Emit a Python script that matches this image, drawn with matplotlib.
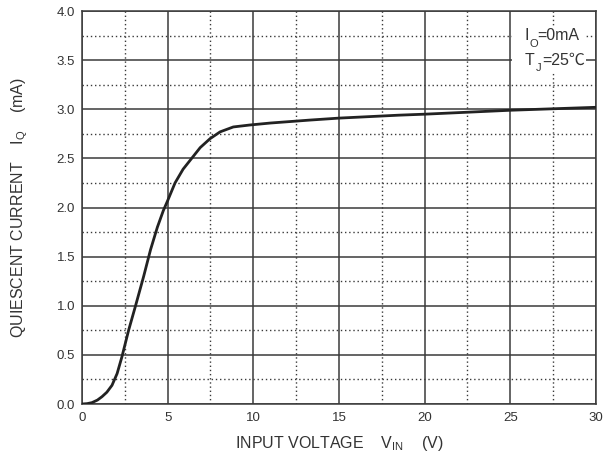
import matplotlib
matplotlib.use("Agg")
import matplotlib.pyplot as plt
from matplotlib.patches import Rectangle
from matplotlib.ticker import MultipleLocator

plt.rcParams["font.family"] = ["Liberation Sans", "DejaVu Sans"]
plt.rcParams["mathtext.fontset"] = "custom"
plt.rcParams["mathtext.rm"] = "Liberation Sans"

# input voltage (V) and quiescent current (mA)
vin = [0, 0.3, 0.58, 0.9, 1.17, 1.45, 1.75, 2.05, 2.33, 2.72, 3.11, 3.6,
       4.0, 4.4, 4.75, 5.0, 5.43, 5.9, 6.4, 6.9, 7.47, 8.06, 8.83, 9.8,
       11.0, 13.3, 15.0, 18.5, 20.0, 25.0, 30.0]
iq = [0, 0.004, 0.014, 0.04, 0.075, 0.12, 0.19, 0.31, 0.48, 0.75, 0.99,
      1.30, 1.57, 1.80, 1.97, 2.07, 2.25, 2.39, 2.50, 2.61, 2.70, 2.77,
      2.82, 2.84, 2.86, 2.89, 2.91, 2.94, 2.95, 2.99, 3.02]

x_ticks = [0, 5, 10, 15, 20, 25, 30]
y_ticks = [0.0, 0.5, 1.0, 1.5, 2.0, 2.5, 3.0, 3.5, 4.0]

# test conditions: (main letter, subscript, rest)
conditions = [("I", "O", "=0mA"), ("T", "J", "=25℃")]

fig = plt.figure(figsize=(6.06, 4.61), dpi=100)
ax = fig.add_axes([0.1353, 0.1236, 0.8482, 0.8525])

ax.plot(vin, iq, color="#222222", lw=2.0, solid_capstyle="round",
        solid_joinstyle="round", zorder=3)

ax.set_xlim(0, 30)
ax.set_ylim(0, 4.0)
ax.set_xticks(x_ticks)
ax.set_yticks(y_ticks)
ax.set_yticklabels(["%.1f" % v for v in y_ticks])
ax.xaxis.set_minor_locator(MultipleLocator(2.5))
ax.yaxis.set_minor_locator(MultipleLocator(0.25))
ax.grid(which="major", color="#3a3a3a", lw=1.1, ls="-")
ax.grid(which="minor", color="#3a3a3a", lw=1.0, ls=(0, (1, 2)))
ax.tick_params(which="both", length=0, labelsize=9.5, colors="#333333")
ax.tick_params(axis="x", pad=6)
ax.tick_params(axis="y", pad=5)
for s in ax.spines.values():
    s.set_color("#3a3a3a")
    s.set_linewidth(1.1)

ax.set_xlabel(r"INPUT VOLTAGE    $\mathregular{V_{IN}}$    (V)", fontsize=11.5,
              color="#333333", labelpad=7)
ax.set_ylabel(r"QUIESCENT CURRENT    $\mathregular{I_Q}$    (mA)", fontsize=11.5,
              color="#333333", labelpad=19)

# white box behind the conditions text
ax.add_patch(Rectangle((0.8366, 0.842), 0.144, 0.117, transform=ax.transAxes,
                       facecolor="white", edgecolor="none", zorder=2))

ypos = [3.70, 3.45]
sub_dx = [3.4, 8.4]
rest_dx = [9.1, 13.2]
for (main, sub, rest), y, sdx, rdx in zip(conditions, ypos, sub_dx, rest_dx):
    ax.text(25.82, y, main, fontsize=11.5, color="#333333", va="baseline",
            ha="left", zorder=4)
    ax.annotate(sub, xy=(25.82, y), xytext=(sdx, -4.5), textcoords="offset points",
                fontsize=8, color="#333333", va="baseline", ha="left", zorder=4)
    ax.annotate(rest, xy=(25.82, y), xytext=(rdx, 0), textcoords="offset points",
                fontsize=11.5, color="#333333", va="baseline", ha="left", zorder=4,
                family=["Liberation Sans", "Noto Sans CJK SC", "DejaVu Sans"])

fig.savefig("out.png", dpi=100)
